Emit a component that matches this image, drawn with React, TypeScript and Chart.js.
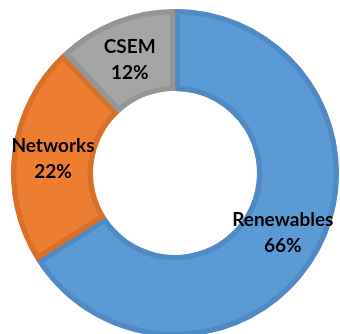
import React, { useEffect, useRef } from "react";
import { Chart, registerables } from "chart.js";

Chart.register(...registerables);

const categories = ["Renewables", "Networks", "CSEM"];
const values = [66, 22, 12];
const percentLabels = ["66%", "22%", "12%"];
const fillColors = ["#5B9BD5", "#ED7D31", "#A5A5A5"];
const borderColors = ["#4F8AC4", "#D9702A", "#959595"];

const labelPlugin = {
  id: "sliceLabels",
  afterDatasetsDraw(chart: any) {
    const ctx = chart.ctx;
    const meta = chart.getDatasetMeta(0);
    ctx.save();
    ctx.fillStyle = "#000000";
    ctx.textAlign = "center";
    ctx.textBaseline = "middle";
    ctx.font = "bold 19px Lato, 'Open Sans', sans-serif";
    meta.data.forEach((arc: any, i: number) => {
      const p = arc.getCenterPoint();
      ctx.fillText(categories[i], p.x, p.y - 12);
      ctx.fillText(percentLabels[i], p.x, p.y + 14);
    });
    ctx.restore();
  },
};

export default function App() {
  const ref = useRef<HTMLCanvasElement>(null);
  useEffect(() => {
    if (!ref.current) return;
    const chart = new Chart(ref.current, {
      type: "doughnut",
      data: {
        labels: categories,
        datasets: [
          {
            data: values,
            backgroundColor: fillColors,
            borderColor: borderColors,
            borderWidth: 5,
            borderAlign: "inner",
          } as any,
        ],
      },
      options: {
        responsive: false,
        animation: false,
        cutout: "50%",
        layout: { padding: 9 },
        plugins: {
          legend: { display: false },
          tooltip: { enabled: false },
        },
      },
      plugins: [labelPlugin],
    });
    return () => chart.destroy();
  }, []);
  return (
    <div
      style={{
        position: "fixed",
        left: 0,
        top: 0,
        width: 340,
        height: 334,
        overflow: "hidden",
        background: "#ffffff",
      }}
    >
      <canvas ref={ref} width={350} height={346} style={{ display: "block" }} />
    </div>
  );
}
